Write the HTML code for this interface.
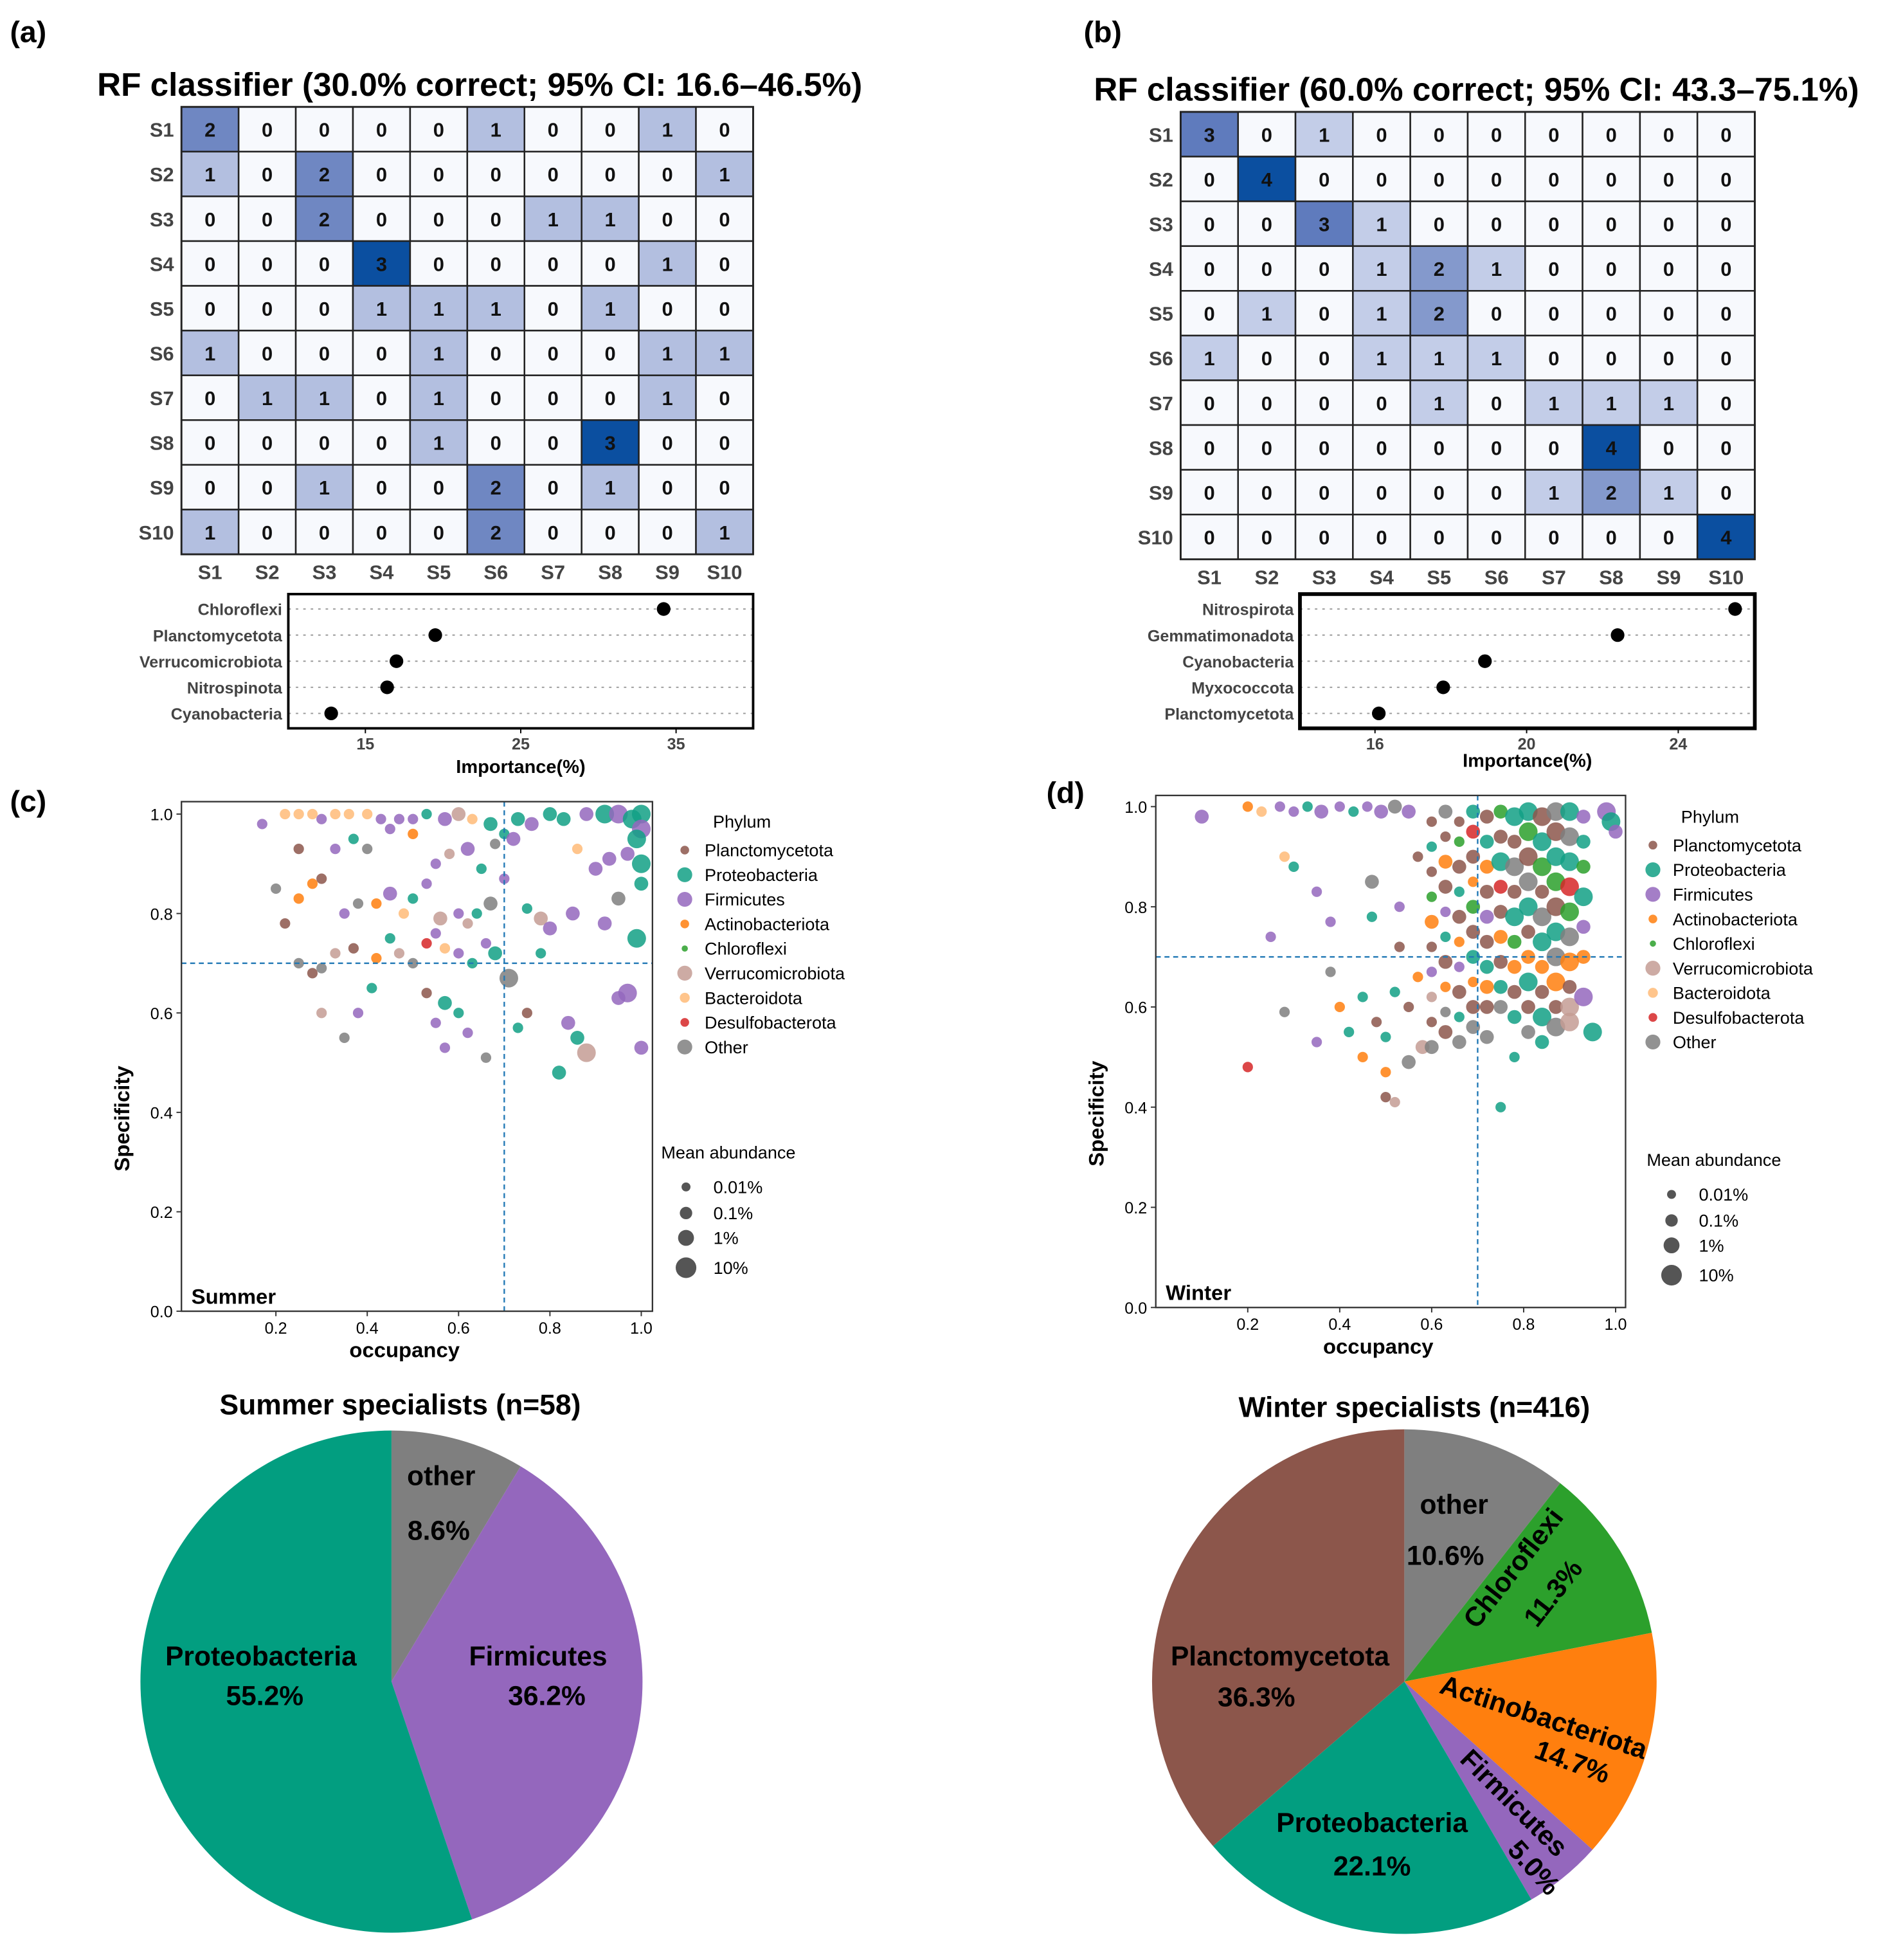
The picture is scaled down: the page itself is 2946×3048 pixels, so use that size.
<!DOCTYPE html>
<html><head><meta charset="utf-8"><style>
html,body{margin:0;padding:0;background:#fff}
svg{display:block}
text{font-family:"Liberation Sans",sans-serif}
</style></head><body>
<svg id="fig" xmlns="http://www.w3.org/2000/svg" width="2946" height="3048" viewBox="0 0 1524 1577" preserveAspectRatio="none">
<rect width="1524" height="1577" fill="#fff"/>
<g font-weight="bold" font-size="24" fill="#000">
<text x="8" y="34">(a)</text>
<text x="872" y="34">(b)</text>
<text x="8" y="653">(c)</text>
<text x="842" y="646">(d)</text>
</g>
<g id="root"></g>
</svg>
<script>
const NS="http://www.w3.org/2000/svg";
const root=document.getElementById('root');
function mk(tag,attrs,parent,txt){const e=document.createElementNS(NS,tag);for(const k in attrs)e.setAttribute(k,attrs[k]);if(txt!==undefined)e.textContent=txt;(parent||root).appendChild(e);return e;}

// ---------- Confusion matrices ----------
const classLabels=["S1","S2","S3","S4","S5","S6","S7","S8","S9","S10"];
const matrixA=[
[2,0,0,0,0,1,0,0,1,0],[1,0,2,0,0,0,0,0,0,1],[0,0,2,0,0,0,1,1,0,0],[0,0,0,3,0,0,0,0,1,0],[0,0,0,1,1,1,0,1,0,0],
[1,0,0,0,1,0,0,0,1,1],[0,1,1,0,1,0,0,0,1,0],[0,0,0,0,1,0,0,3,0,0],[0,0,1,0,0,2,0,1,0,0],[1,0,0,0,0,2,0,0,0,1]];
const matrixB=[
[3,0,1,0,0,0,0,0,0,0],[0,4,0,0,0,0,0,0,0,0],[0,0,3,1,0,0,0,0,0,0],[0,0,0,1,2,1,0,0,0,0],[0,1,0,1,2,0,0,0,0,0],
[1,0,0,1,1,1,0,0,0,0],[0,0,0,0,1,0,1,1,1,0],[0,0,0,0,0,0,0,4,0,0],[0,0,0,0,0,0,1,2,1,0],[0,0,0,0,0,0,0,0,0,4]];
const cellColorsA=["#f7f9fd","#b3bfe0","#6f87c2","#0b4fa0"];
const cellColorsB=["#f7f9fd","#c3cde8","#8499cc","#5f7bbd","#0b4fa0"];
function heat(mat,x0,y0,w,h,cols,title,tx,ty,nm){
  const g=mk('g',{});
  
  
  const t=mk('text',{x:tx,y:ty,'text-anchor':'middle','font-size':26.5,'font-weight':'bold'},g,title);
  
  
  const cw=w/10,ch=h/10;
  mat.forEach((row,i)=>{row.forEach((v,j)=>{
    const r=mk('rect',{x:x0+j*cw,y:y0+i*ch,width:cw,height:ch,fill:cols[v],stroke:'#222','stroke-width':1.3},g);
    
    
    mk('text',{x:x0+j*cw+cw/2,y:y0+i*ch+ch/2+6,'text-anchor':'middle','font-size':16,'font-weight':'bold',fill:'#111'},g,v);
  });
    const rl=mk('text',{x:x0-6,y:y0+i*ch+ch/2+6,'text-anchor':'end','font-size':16,'font-weight':'bold',fill:'#444'},g,classLabels[i]);
    
    
  });
  classLabels.forEach((c,j)=>{
    const cl=mk('text',{x:x0+j*cw+cw/2,y:y0+h+20,'text-anchor':'middle','font-size':16,'font-weight':'bold',fill:'#444'},g,c);
    
    
  });
  mk('rect',{x:x0,y:y0,width:w,height:h,fill:'none',stroke:'#222','stroke-width':1.5},g);
}
heat(matrixA,146,86,460,360,cellColorsA,"RF classifier (30.0% correct; 95% CI: 16.6–46.5%)",386,77,'confusion-matrix-a');
heat(matrixB,950,90,462,360,cellColorsB,"RF classifier (60.0% correct; 95% CI: 43.3–75.1%)",1188,81,'confusion-matrix-b');

// ---------- Importance plots ----------
const impNamesA=["Chloroflexi","Planctomycetota","Verrucomicrobiota","Nitrospinota","Cyanobacteria"];
const impValsA=[34.2,19.5,17.0,16.4,12.8];
const impTicksA=[15,25,35];
const impNamesB=["Nitrospirota","Gemmatimonadota","Cyanobacteria","Myxococcota","Planctomycetota"];
const impValsB=[25.5,22.4,18.9,17.8,16.1];
const impTicksB=[16,20,24];
function imp(names,vals,ticks,bx,by,bw,bh,x0v,pxu,sw,labY,nm){
  const g=mk('g',{});
  
  
  const sx=v=>bx+(v-x0v)*pxu;
  names.forEach((n,i)=>{
    const y=by+12+i*21;
    mk('line',{x1:bx,x2:bx+bw,y1:y,y2:y,stroke:'#999','stroke-dasharray':'2,4','stroke-width':1},g);
    const lt=mk('text',{x:bx-5,y:y+5,'text-anchor':'end','font-size':13,'font-weight':'bold',fill:'#444'},g,n);
    
    
    const c=mk('circle',{cx:sx(vals[i]),cy:y,r:5.5,fill:'#000'},g);
    
    
  });
  mk('rect',{x:bx,y:by,width:bw,height:bh,fill:'none',stroke:'#000','stroke-width':sw},g);
  ticks.forEach(t=>{
    mk('line',{x1:sx(t),x2:sx(t),y1:by+bh,y2:by+bh+4,stroke:'#000'},g);
    mk('text',{x:sx(t),y:by+bh+17,'text-anchor':'middle','font-size':13,'font-weight':'bold',fill:'#444'},g,t);
  });
  const xl=mk('text',{x:bx+bw/2,y:labY,'text-anchor':'middle','font-size':15,'font-weight':'bold'},g,"Importance(%)");
  
  
}
imp(impNamesA,impValsA,impTicksA,232,478,374,108,10.04,12.5,2,622,'importance-plot-a');
imp(impNamesB,impValsB,impTicksB,1046,478,366,108,14.02,30.5,3,617,'importance-plot-b');

// ---------- Scatter plots ----------
const phyla=["Planctomycetota","Proteobacteria","Firmicutes","Actinobacteriota","Chloroflexi","Verrucomicrobiota","Bacteroidota","Desulfobacterota","Other"];
const phylaColors=["#8c564b","#12a085","#9467bd","#ff7f0e","#2ca02c","#c49c94","#ffbb78","#d62728","#7f7f7f"];
const sizeR=[2.8,4.2,5.6,7.5];
const summerPts=[
[0.17,0.98,2,1],[0.22,1.0,6,1],[0.25,1.0,6,1],[0.28,1.0,6,1],[0.3,0.99,2,1],[0.33,1.0,6,1],[0.36,1.0,6,1],[0.4,1.0,6,1],[0.43,0.99,2,1],[0.47,0.99,2,1],
[0.5,0.99,2,1],[0.53,1.0,1,1],[0.57,0.99,2,2],[0.6,1.0,5,2],[0.63,0.99,6,1],[0.67,0.98,1,2],[0.7,0.96,1,1],[0.73,0.99,1,2],[0.76,0.98,2,2],[0.8,1.0,1,2],
[0.83,0.99,1,2],[0.88,1.0,2,2],[0.92,1.0,1,3],[0.95,1.0,2,3],[0.98,0.99,1,3],[1.0,1.0,1,3],[1.0,0.97,2,3],[0.99,0.95,1,3],[1.0,0.9,1,3],[1.0,0.86,1,2],
[0.97,0.92,2,2],[0.93,0.91,2,2],[0.9,0.89,2,2],[0.86,0.93,6,1],[0.95,0.83,8,2],[0.99,0.75,1,3],[0.97,0.64,2,3],[0.95,0.63,2,2],[1.0,0.53,2,2],[0.88,0.52,5,3],
[0.86,0.55,1,2],[0.82,0.48,1,2],[0.84,0.58,2,2],[0.71,0.67,8,3],[0.73,0.57,1,1],[0.66,0.51,8,1],[0.68,0.72,1,2],[0.67,0.82,8,2],[0.64,0.8,1,1],[0.68,0.94,8,1],
[0.72,0.95,2,2],[0.62,0.93,2,2],[0.65,0.89,1,1],[0.58,0.92,5,1],[0.55,0.9,2,1],[0.5,0.96,3,1],[0.45,0.97,2,1],[0.4,0.93,8,1],[0.37,0.95,1,1],[0.33,0.93,2,1],
[0.3,0.87,0,1],[0.25,0.93,0,1],[0.2,0.85,8,1],[0.25,0.83,3,1],[0.28,0.86,3,1],[0.22,0.78,0,1],[0.35,0.8,2,1],[0.38,0.82,8,1],[0.42,0.82,3,1],[0.45,0.84,2,2],
[0.48,0.8,6,1],[0.5,0.83,1,1],[0.53,0.86,2,1],[0.56,0.79,5,2],[0.6,0.8,2,1],[0.62,0.78,5,1],[0.45,0.75,1,1],[0.47,0.72,5,1],[0.5,0.7,8,1],[0.53,0.74,7,1],
[0.55,0.76,2,1],[0.57,0.73,6,1],[0.6,0.72,2,1],[0.63,0.7,1,1],[0.66,0.74,2,1],[0.42,0.71,3,1],[0.37,0.73,0,1],[0.33,0.72,5,1],[0.3,0.69,8,1],[0.28,0.68,0,1],
[0.25,0.7,8,1],[0.3,0.6,5,1],[0.35,0.55,8,1],[0.38,0.6,2,1],[0.41,0.65,1,1],[0.53,0.64,0,1],[0.55,0.58,2,1],[0.57,0.62,1,2],[0.6,0.6,1,1],[0.57,0.53,2,1],
[0.62,0.56,2,1],[0.75,0.6,0,1],[0.78,0.79,5,2],[0.75,0.81,1,1],[0.8,0.77,2,2],[0.85,0.8,2,2],[0.78,0.72,1,1],[0.92,0.78,2,2],[0.7,0.87,2,1]];
const winterPts=[
[0.1,0.98,2,2],[0.2,1.0,3,1],[0.23,0.99,6,1],[0.27,1.0,2,1],[0.3,0.99,2,1],[0.33,1.0,1,1],[0.36,0.99,2,2],[0.4,1.0,2,1],[0.43,0.99,1,1],[0.46,1.0,2,1],[0.49,0.99,2,2],[0.52,1.0,8,2],[0.55,0.99,2,2],
[0.2,0.48,7,1],[0.25,0.74,2,1],[0.28,0.59,8,1],[0.28,0.9,6,1],[0.3,0.88,1,1],[0.35,0.53,2,1],[0.35,0.83,2,1],[0.38,0.67,8,1],[0.38,0.77,2,1],[0.4,0.6,3,1],[0.42,0.55,1,1],
[0.45,0.62,1,1],[0.45,0.5,3,1],[0.47,0.85,8,2],[0.47,0.78,1,1],[0.48,0.57,0,1],[0.5,0.42,0,1],[0.5,0.47,3,1],[0.5,0.54,1,1],[0.52,0.63,1,1],[0.52,0.41,5,1],
[0.53,0.72,0,1],[0.53,0.8,2,1],[0.55,0.49,8,2],[0.55,0.6,0,1],[0.57,0.66,3,1],[0.57,0.9,0,1],[0.58,0.52,5,2],
[0.6,0.97,0,1],[0.6,0.92,1,1],[0.6,0.87,0,1],[0.6,0.82,4,1],[0.6,0.77,3,2],[0.6,0.72,0,1],[0.6,0.67,2,1],[0.6,0.62,5,1],[0.6,0.57,0,1],[0.6,0.52,8,2],
[0.63,0.99,8,2],[0.63,0.94,0,1],[0.63,0.89,3,2],[0.63,0.84,0,2],[0.63,0.79,2,1],[0.63,0.74,1,1],[0.63,0.69,0,2],[0.63,0.64,3,1],[0.63,0.59,8,1],[0.63,0.55,0,2],
[0.66,0.97,0,1],[0.66,0.93,4,1],[0.66,0.88,0,2],[0.66,0.83,1,1],[0.66,0.78,0,2],[0.66,0.73,3,1],[0.66,0.68,2,1],[0.66,0.63,0,2],[0.66,0.58,1,1],[0.66,0.53,8,2],
[0.69,0.99,1,2],[0.69,0.95,7,2],[0.69,0.9,0,2],[0.69,0.85,3,1],[0.69,0.8,4,2],[0.69,0.75,0,2],[0.69,0.7,1,2],[0.69,0.65,3,1],[0.69,0.6,0,2],[0.69,0.56,8,2],
[0.72,0.98,0,2],[0.72,0.93,1,2],[0.72,0.88,3,2],[0.72,0.83,0,2],[0.72,0.78,2,2],[0.72,0.73,0,2],[0.72,0.68,1,2],[0.72,0.64,3,2],[0.72,0.6,0,2],[0.72,0.54,8,2],
[0.75,0.99,4,2],[0.75,0.94,0,2],[0.75,0.89,1,3],[0.75,0.84,7,2],[0.75,0.79,0,2],[0.75,0.74,3,2],[0.75,0.69,0,2],[0.75,0.64,1,2],[0.75,0.6,8,2],[0.75,0.4,1,1],
[0.78,0.98,1,3],[0.78,0.93,0,2],[0.78,0.88,8,3],[0.78,0.83,0,2],[0.78,0.78,1,3],[0.78,0.73,4,2],[0.78,0.68,3,2],[0.78,0.63,0,2],[0.78,0.58,1,2],[0.78,0.5,1,1],
[0.81,0.99,1,3],[0.81,0.95,4,3],[0.81,0.9,0,3],[0.81,0.85,8,3],[0.81,0.8,1,3],[0.81,0.75,0,2],[0.81,0.7,3,2],[0.81,0.65,1,3],[0.81,0.6,0,2],[0.81,0.55,8,2],
[0.84,0.98,0,3],[0.84,0.93,1,3],[0.84,0.88,4,3],[0.84,0.83,0,2],[0.84,0.78,8,3],[0.84,0.73,1,3],[0.84,0.68,3,2],[0.84,0.63,0,2],[0.84,0.58,1,3],[0.84,0.53,1,2],
[0.87,0.99,8,3],[0.87,0.95,0,3],[0.87,0.9,1,3],[0.87,0.85,4,3],[0.87,0.8,0,3],[0.87,0.75,1,3],[0.87,0.7,8,3],[0.87,0.65,3,3],[0.87,0.6,0,2],[0.87,0.56,8,3],
[0.9,0.99,1,3],[0.9,0.94,8,3],[0.9,0.89,1,3],[0.9,0.84,7,3],[0.9,0.79,4,3],[0.9,0.74,8,3],[0.9,0.69,3,3],[0.9,0.64,0,2],[0.9,0.6,5,3],[0.9,0.57,5,3],
[0.93,0.98,2,2],[0.93,0.93,1,2],[0.93,0.88,4,2],[0.93,0.82,1,3],[0.93,0.76,2,2],[0.93,0.7,3,2],[0.93,0.62,2,3],[0.95,0.55,1,3],[0.98,0.99,2,3],[0.99,0.97,1,3],[1.0,0.95,2,2]];
const xTicks=[0.2,0.4,0.6,0.8,1.0];
const yTicks=[0.0,0.2,0.4,0.6,0.8,1.0];
const sizeLegendLabels=["0.01%","0.1%","1%","10%"];
function scatter(pts,ax,nm,season){
  const g=mk('g',{});
  
  
  const sx=v=>ax.x0+v*ax.kx, sy=v=>ax.y0-v*ax.ky;
  mk('rect',{x:ax.l,y:ax.t,width:ax.r-ax.l,height:ax.b-ax.t,fill:'#fff'},g);
  pts.forEach(p=>{
    const c=mk('circle',{cx:sx(p[0]),cy:sy(p[1]),r:sizeR[p[3]],fill:phylaColors[p[2]],'fill-opacity':0.85},g);
    
    
  });
  mk('line',{x1:ax.l,x2:ax.r,y1:sy(0.7),y2:sy(0.7),stroke:'#1f77b4','stroke-dasharray':'4,3','stroke-width':1.2},g);
  mk('line',{x1:sx(0.7),x2:sx(0.7),y1:ax.t,y2:ax.b,stroke:'#1f77b4','stroke-dasharray':'4,3','stroke-width':1.2},g);
  mk('rect',{x:ax.l,y:ax.t,width:ax.r-ax.l,height:ax.b-ax.t,fill:'none',stroke:'#333','stroke-width':1.2},g);
  xTicks.forEach(t=>{mk('line',{x1:sx(t),x2:sx(t),y1:ax.b,y2:ax.b+4,stroke:'#333'},g);mk('text',{x:sx(t),y:ax.b+18,'text-anchor':'middle','font-size':13},g,t.toFixed(1));});
  yTicks.forEach(t=>{mk('line',{x1:ax.l-4,x2:ax.l,y1:sy(t),y2:sy(t),stroke:'#333'},g);mk('text',{x:ax.l-7,y:sy(t)+5,'text-anchor':'end','font-size':13},g,t.toFixed(1));});
  const xl=mk('text',{x:(ax.l+ax.r)/2-10,y:ax.b+37,'text-anchor':'middle','font-size':17,'font-weight':'bold'},g,'occupancy');
  
  
  const yl=mk('text',{x:0,y:0,'text-anchor':'middle','font-size':17,'font-weight':'bold',transform:`translate(${ax.l-42},${(ax.t+ax.b)/2+50}) rotate(-90)`},g,'Specificity');
  
  
  mk('text',{x:ax.l+8,y:ax.b-6,'font-size':17,'font-weight':'bold'},g,season);
  const L=ax.leg;
  mk('text',{x:L.x+46,y:L.y,'text-anchor':'middle','font-size':14},g,'Phylum');
  const legR=[3.5,6,6,3.5,2.5,6,4,3.5,6];
  phyla.forEach((p,i)=>{
    const y=L.y+23+i*19.8;
    const e=mk('g',{},g);
    
    
    mk('circle',{cx:L.x,cy:y-5,r:legR[i],fill:phylaColors[i],'fill-opacity':0.85},e);
    mk('text',{x:L.x+16,y:y,'font-size':14},e,p);
  });
  mk('text',{x:L.sx-20,y:L.sy,'font-size':14},g,'Mean abundance');
  sizeLegendLabels.forEach((s,i)=>{
    const y=L.sy+[28,49,69,93][i];
    mk('circle',{cx:L.sx,cy:y-5,r:sizeR[i]+0.8,fill:'#555'},g);
    mk('text',{x:L.sx+22,y:y,'font-size':14},g,s);
  });
}
scatter(summerPts,{l:146,r:525,t:645,b:1055,x0:148.5,kx:367.5,y0:1055,ky:400,leg:{x:551,y:666,sx:552,sy:932}},'scatter-summer','Summer');
scatter(winterPts,{l:930,r:1308,t:640,b:1052,x0:930,kx:370,y0:1052,ky:403,leg:{x:1330,y:662,sx:1345,sy:938}},'scatter-winter','Winter');

// ---------- Pies ----------
const summerPieNames=["other","Firmicutes","Proteobacteria"];
const summerPieVals=[8.6,36.2,55.2];
const summerPieColors=["#7f7f7f","#9467bd","#029e80"];
const winterPieNames=["other","Chloroflexi","Actinobacteriota","Firmicutes","Proteobacteria","Planctomycetota"];
const winterPieVals=[10.6,11.3,14.7,5.0,22.1,36.3];
const winterPieColors=["#7f7f7f","#2ca02c","#ff7f0e","#9467bd","#029e80","#8c564b"];
function pie(names,vals,cols,cx,cy,r,title,tx,ty,nm){
  const g=mk('g',{});
  
  
  const t=mk('text',{x:tx,y:ty,'text-anchor':'middle','font-size':23,'font-weight':'bold'},g,title);
  
  
  const tot=vals.reduce((a,b)=>a+b,0);let a=0;
  vals.forEach((v,i)=>{
    const a1=a/tot*2*Math.PI,a2=(a+v)/tot*2*Math.PI;a+=v;
    const p=(an)=>[cx+r*Math.sin(an),cy-r*Math.cos(an)];
    const [x1,y1]=p(a1),[x2,y2]=p(a2);
    const s=mk('path',{d:`M${cx},${cy}L${x1},${y1}A${r},${r} 0 ${a2-a1>Math.PI?1:0} 1 ${x2},${y2}Z`,fill:cols[i]},g);
    
    
  });
  return g;
}
const gs=pie(summerPieNames,summerPieVals,summerPieColors,315,1353,202,"Summer specialists (n=58)",322,1138,'pie-summer');
const gw=pie(winterPieNames,winterPieVals,winterPieColors,1130,1353,203,"Winter specialists (n=416)",1138,1140,'pie-winter');
function lab(g,x,y,s,rot){mk('text',{x:0,y:0,'text-anchor':'middle','dominant-baseline':'central','font-size':22,'font-weight':'bold',transform:`translate(${x},${y}) rotate(${rot||0})`},g,s);}
lab(gs,355,1188,"other");lab(gs,353,1232,"8.6%");
lab(gs,433,1333,"Firmicutes");lab(gs,440,1365,"36.2%");
lab(gs,210,1333,"Proteobacteria");lab(gs,213,1365,"55.2%");
lab(gw,1170,1211,"other");lab(gw,1163,1252,"10.6%");
lab(gw,1030,1333,"Planctomycetota");lab(gw,1011,1366,"36.3%");
lab(gw,1104,1467,"Proteobacteria");lab(gw,1104,1502,"22.1%");
lab(gw,1218,1262,"Chloroflexi",-52);lab(gw,1250,1282,"11.3%",-52);
lab(gw,1242,1382,"Actinobacteriota",18);lab(gw,1265,1418,"14.7%",20);
lab(gw,1218,1451,"Firmicutes",45);lab(gw,1234,1503,"5.0%",48);
</script>
</body></html>
